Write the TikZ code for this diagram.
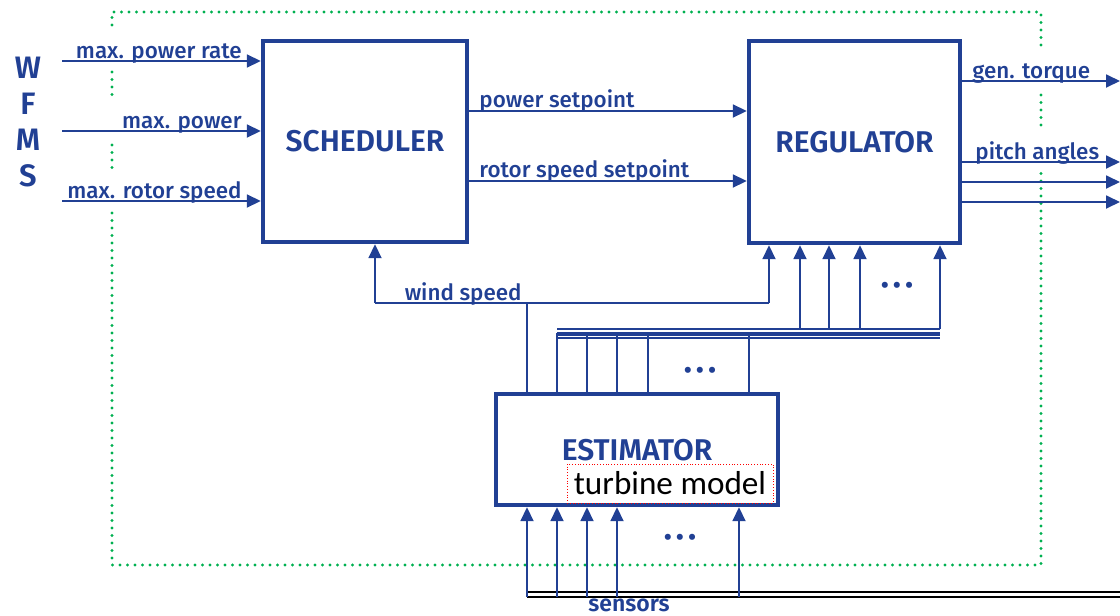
\documentclass[tikz,border=0pt]{standalone}
\usepackage{fontspec}
\setmainfont{Fira Sans}[UprightFont=* Medium, BoldFont=* SemiBold]
\newfontfamily\modelfont{Carlito}
\usetikzlibrary{arrows.meta,positioning,calc}
\definecolor{geblue}{RGB}{33,64,148}
\definecolor{gegreen}{RGB}{0,176,80}
\tikzset{
  blk/.style  ={draw=geblue,line width=2.2pt,text=geblue,inner sep=0pt,font=\bfseries\fontsize{15}{17}\selectfont},
  ln/.style   ={draw=geblue,line width=0.9pt},
  arr/.style  ={ln,-{Triangle[length=7pt,width=6.5pt]}},
  lbl/.style  ={text=geblue,inner sep=0pt,font=\fontsize{11.2}{13}\selectfont},
  dots/.style ={text=geblue,inner sep=0pt,font=\fontsize{12}{13}\selectfont},
  frame/.style={draw=gegreen,line width=1.6pt,line cap=round,dash pattern=on 0pt off 3.75pt},
  model/.style={draw=red,densely dotted,line width=0.4pt,inner sep=0pt,minimum width=103pt,minimum height=19.5pt,font=\modelfont\fontsize{16.6}{18}\selectfont},
}

\begin{document}
\begin{tikzpicture}[x=0.5pt,y=-0.5pt]
  \useasboundingbox (0,0) rectangle (1120,616);
  % dotted frame (broken where the signals cross it)
  \draw[frame] (112,25)--(112,12)--(1041,12)--(1041,50);
  \draw[frame] (112,72)--(112,100); \draw[frame] (112,145)--(112,170);
  \draw[frame] (112,213)--(112,565)--(1041,565)--(1041,173);
  \draw[frame] (1041,95)--(1041,127);

  \node[blk,minimum width=102pt,minimum height=100.5pt](sch) at (365,141.5){SCHEDULER};
  \node[blk,minimum width=105.5pt,minimum height=101pt](reg) at (854.5,142){REGULATOR};
  \node[blk,minimum width=141pt,minimum height=55.5pt](est) at (637,449.5){};
  \node[text=geblue,font=\bfseries\fontsize{15}{17}\selectfont](estlbl) at (637,450){ESTIMATOR};
  \node[model](tm) at (670,483.5){turbine model};
  \node[text=geblue,align=center,inner sep=0pt,font=\bfseries\fontsize{15.5}{18}\selectfont](wfms) at (28,122){W\\F\\M\\S};

  % WFMS inputs
  \foreach \y/\t [count=\i] in {61/max. power rate,131/max. power,201/max. rotor speed}{
    \coordinate (w\i) at (62,\y);
    \draw[arr](w\i)--(w\i -| sch.west);
    \node[lbl,anchor=base east](wl\i) at ($(w\i)+(180,-3)$){\t};
  }
  % setpoints
  \foreach \y/\t [count=\i] in {111/power setpoint,181/rotor speed setpoint}{
    \coordinate (s\i) at (467,\y);
    \draw[arr](s\i -| sch.east)--(s\i -| reg.west);
    \node[lbl,anchor=base west](sl\i) at ($(s\i)+(12,-4)$){\t};
  }
  % outputs
  \foreach \y [count=\i] in {81,162,182,202}{
    \coordinate (o\i) at (1120,\y);
    \draw[arr](o\i -| reg.east)--(o\i);
  }
  \node[lbl,anchor=base west](gt) at (972,78){gen. torque};
  \node[lbl,anchor=base west](pa) at (975,159){pitch angles};

  % wind speed
  \coordinate (wsL) at (375,303); \coordinate (wsR) at (769,303);
  \draw[ln](wsL)--(wsR);
  \draw[arr](wsL)--(wsL |- sch.south);
  \draw[arr](wsR)--(wsR |- reg.south);
  \draw[ln](527,0 |- est.north)--(527,303);
  \node[lbl,anchor=base east](ws) at (522,300){wind speed};

  % bus from estimator to regulator
  \coordinate (busL) at (557,333); \coordinate (busR) at (940,333);
  \draw[ln]($(busL)+(0,-4)$)--($(busR)+(0,-4)$);
  \draw[ln,line width=1.8pt]($(busL)+(0,1)$)--($(busR)+(0,1)$);
  \draw[ln]($(busL)+(0,5)$)--($(busR)+(0,5)$);
  \foreach \x in {557,587,617,648,749}{\draw[ln](\x,333)--(\x,0 |- est.north);}
  \foreach \x in {800,829,860,940}{\draw[arr](\x,329)--(\x,0 |- reg.south);}
  \node[dots](d1) at (897,288){\textbullet\,\textbullet\,\textbullet};
  \node[dots](d2) at (700,373){\textbullet\,\textbullet\,\textbullet};

  % sensors
  \coordinate (sensL) at (527,592); \coordinate (sensR) at (1120,592);
  \draw[black,line width=1.2pt](sensL)--(sensR);
  \draw[black,line width=0.9pt]($(sensL)+(0,5)$)--($(sensR)+(0,5)$);
  \foreach \x in {527,557,587,617,739}{\draw[arr](\x,597)--(\x,0 |- est.south);}
  \node[dots](d3) at (680,540){\textbullet\,\textbullet\,\textbullet};
  \node[lbl,font=\bfseries\fontsize{11.5}{13}\selectfont,anchor=base](sens) at (629,611){sensors};
\end{tikzpicture}
\end{document}
